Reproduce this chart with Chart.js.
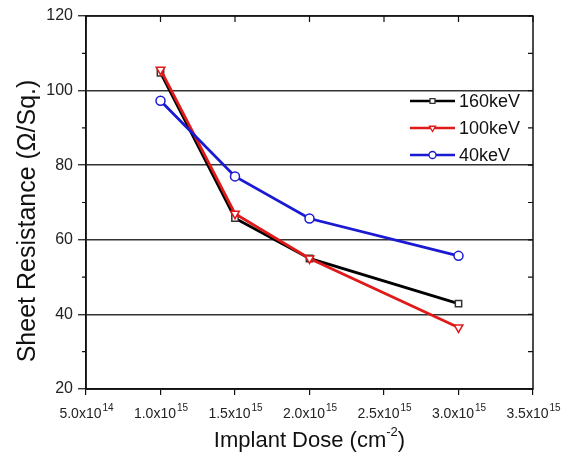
<!DOCTYPE html>
<html>
<head>
<meta charset="utf-8">
<script src="https://cdn.jsdelivr.net/npm/chart.js@4.4.0/dist/chart.umd.min.js"></script>
<style>
  html, body { margin: 0; padding: 0; background: #fff; }
  canvas { display: block; }
</style>
</head>
<body>
<canvas id="sheetChart" width="571" height="466"></canvas>
<script>
// implant dose (cm^-2) and sheet resistance (ohm/sq) per energy
const doses = [1.0e15, 1.5e15, 2.0e15, 3.0e15];
const r160keV = [104.8, 65.8, 55.0, 42.9];
const r100keV = [105.6, 67.0, 55.0, 36.5];
const r40keV = [97.3, 77.0, 65.7, 55.7];

const xTicks = [5.0e14, 1.0e15, 1.5e15, 2.0e15, 2.5e15, 3.0e15, 3.5e15];
const yTicks = [20, 40, 60, 80, 100, 120];
const yMinorTicks = [30, 50, 70, 90, 110];

const FONT = "'Liberation Sans', Arial, sans-serif";
Chart.defaults.font.family = FONT;

function toPoints(ys) {
  return doses.map((d, i) => ({ x: d, y: ys[i] }));
}

// frame, minor ticks, x tick labels with exponents, axis titles, inset legend
const decorations = {
  id: "decorations",
  afterDraw(chart) {
    const ctx = chart.ctx;
    const area = chart.chartArea;
    const xs = chart.scales.x;
    const ys = chart.scales.y;
    ctx.save();

    ctx.strokeStyle = "#111";
    ctx.lineWidth = 1.5;
    ctx.strokeRect(area.left, area.top, area.right - area.left, area.bottom - area.top);

    ctx.lineWidth = 1.2;
    ctx.beginPath();
    yMinorTicks.forEach((v) => {
      const py = ys.getPixelForValue(v);
      ctx.moveTo(area.left - 4, py);
      ctx.lineTo(area.left, py);
    });
    yMinorTicks.concat(yTicks).forEach((v) => {
      const py = ys.getPixelForValue(v);
      ctx.moveTo(area.right, py);
      ctx.lineTo(area.right - 5, py);
    });
    xTicks.forEach((v) => {
      const px = xs.getPixelForValue(v);
      ctx.moveTo(px, area.top);
      ctx.lineTo(px, area.top + 6);
    });
    ctx.stroke();

    // x tick labels like 5.0x10^14
    ctx.fillStyle = "#222";
    ctx.textBaseline = "alphabetic";
    xTicks.forEach((v) => {
      const exp = Math.floor(Math.log10(v) + 1e-9);
      const mant = (v / Math.pow(10, exp)).toFixed(1) + "x10";
      const sup = String(exp);
      ctx.font = "14px " + FONT;
      const w1 = ctx.measureText(mant).width;
      ctx.font = "10px " + FONT;
      const w2 = ctx.measureText(sup).width;
      const x0 = xs.getPixelForValue(v) - (w1 + w2) / 2;
      ctx.font = "14px " + FONT;
      ctx.textAlign = "left";
      ctx.fillText(mant, x0, area.bottom + 29);
      ctx.font = "10px " + FONT;
      ctx.fillText(sup, x0 + w1 + 1, area.bottom + 22);
    });

    // x title
    ctx.fillStyle = "#111";
    const t1 = "Implant Dose (cm";
    const t2 = "-2";
    const t3 = ")";
    ctx.font = "22px " + FONT;
    const a = ctx.measureText(t1).width;
    const c = ctx.measureText(t3).width;
    ctx.font = "13px " + FONT;
    const b = ctx.measureText(t2).width;
    let tx = (area.left + area.right) / 2 - (a + b + c) / 2;
    const ty = 447;
    ctx.font = "22px " + FONT;
    ctx.fillText(t1, tx, ty);
    ctx.font = "13px " + FONT;
    ctx.fillText(t2, tx + a, ty - 11);
    ctx.font = "22px " + FONT;
    ctx.fillText(t3, tx + a + b, ty);

    // y title
    ctx.save();
    ctx.translate(35, 221);
    ctx.rotate(-Math.PI / 2);
    ctx.textAlign = "center";
    ctx.font = "25px " + FONT;
    ctx.fillText("Sheet Resistance (\u03A9/Sq.)", 0, 0);
    ctx.restore();

    // legend
    const lx0 = 410, lx1 = 455, rowY = [101, 128, 155];
    chart.data.datasets.forEach((ds, i) => {
      const y = rowY[i];
      ctx.strokeStyle = ds.borderColor;
      ctx.lineWidth = 2.5;
      ctx.beginPath();
      ctx.moveTo(lx0, y);
      ctx.lineTo(lx1, y);
      ctx.stroke();
      ctx.fillStyle = "#fff";
      ctx.strokeStyle = ds.pointBorderColor;
      ctx.lineWidth = 1.3;
      Chart.helpers.drawPoint(ctx, {
        pointStyle: ds.pointStyle,
        rotation: ds.pointRotation || 0,
        radius: 3.5,
        borderWidth: 1.3
      }, (lx0 + lx1) / 2, y);
      ctx.fillStyle = "#111";
      ctx.font = "18px " + FONT;
      ctx.textAlign = "left";
      ctx.textBaseline = "middle";
      ctx.fillText(ds.label, lx1 + 4, y + 1);
    });

    ctx.restore();
  }
};

new Chart(document.getElementById("sheetChart"), {
  type: "line",
  data: {
    datasets: [
      {
        label: "160keV",
        data: toPoints(r160keV),
        borderColor: "#000000",
        pointBorderColor: "#333333",
        pointBackgroundColor: "#ffffff",
        pointStyle: "rect",
        pointRadius: 4.5,
        pointBorderWidth: 1.5,
        borderWidth: 2.8,
        order: 2
      },
      {
        label: "100keV",
        data: toPoints(r100keV),
        borderColor: "#e01a1a",
        pointBorderColor: "#e01a1a",
        pointBackgroundColor: "#ffffff",
        pointStyle: "triangle",
        pointRotation: 180,
        pointRadius: 5,
        pointBorderWidth: 1.5,
        borderWidth: 2.8,
        order: 1
      },
      {
        label: "40keV",
        data: toPoints(r40keV),
        borderColor: "#1a1ad2",
        pointBorderColor: "#1a1ad2",
        pointBackgroundColor: "#ffffff",
        pointStyle: "circle",
        pointRadius: 4.5,
        pointBorderWidth: 1.5,
        borderWidth: 2.8,
        order: 0
      }
    ]
  },
  options: {
    responsive: false,
    animation: false,
    layout: { padding: { left: 0, top: 16, right: 38, bottom: 0 } },
    plugins: {
      legend: { display: false },
      tooltip: { enabled: false }
    },
    scales: {
      x: {
        type: "linear",
        min: xTicks[0],
        max: xTicks[xTicks.length - 1],
        afterBuildTicks: (scale) => { scale.ticks = xTicks.map((v) => ({ value: v })); },
        afterFit: (scale) => { scale.height = 77; },
        ticks: { display: false },
        grid: { drawOnChartArea: false, drawTicks: true, tickLength: 6, color: "#111", lineWidth: 1.2 },
        border: { display: true, color: "#111", width: 1.5 }
      },
      y: {
        min: yTicks[0],
        max: yTicks[yTicks.length - 1],
        afterBuildTicks: (scale) => { scale.ticks = yTicks.map((v) => ({ value: v })); },
        afterFit: (scale) => { scale.width = 86; },
        ticks: { color: "#222", font: { size: 16 }, padding: 5 },
        grid: { color: "#333", lineWidth: 1.5, drawTicks: true, tickLength: 8, tickColor: "#111", tickWidth: 1.2 },
        border: { display: true, color: "#111", width: 1.5 }
      }
    }
  },
  plugins: [decorations]
});
</script>
</body>
</html>
